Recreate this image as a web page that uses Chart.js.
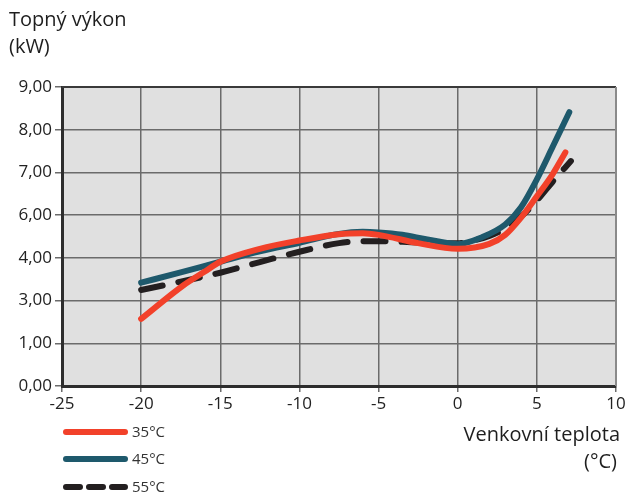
<!DOCTYPE html>
<html>
<head>
<meta charset="utf-8">
<script src="https://cdn.jsdelivr.net/npm/chart.js@4/dist/chart.umd.min.js"></script>
<style>
    html, body { margin: 0; padding: 0; background: #fff; }
    #wrap { width: 629px; height: 496px; position: relative; }
</style>
</head>
<body>
<div id="wrap"><canvas id="chartCanvas" width="629" height="496"></canvas></div>
<script>
// data (y in axis position units, 0..9)
const xTicks = [-25, -20, -15, -10, -5, 0, 5, 10]
const yTickLabels = ['0,00', '1,00', '3,00', '4,00', '6,00', '7,00', '8,00', '9,00']

const x35 = [-20, -17.3, -16, -15, -12.5, -10, -7.5, -6, -5, -2.5, 0, 2, 3, 4, 5, 6, 6.8]
const y35 = [2.02, 3.04, 3.44, 3.74, 4.13, 4.38, 4.57, 4.60, 4.55, 4.30, 4.13, 4.28, 4.55, 5.07, 5.71, 6.38, 7.03]

const x45 = [-20, -17.5, -15, -12.5, -10, -7.5, -6, -5, -3.5, -2, 0, 1.5, 3, 4, 5, 6, 7.05]
const y45 = [3.11, 3.42, 3.74, 4.05, 4.31, 4.58, 4.64, 4.62, 4.55, 4.42, 4.27, 4.47, 4.86, 5.38, 6.22, 7.20, 8.24]

const x55 = [-20, -17.5, -15, -12.5, -10, -7.5, -6, -5, -2.5, 0, 1, 2, 3, 4, 5, 6, 7.15]
const y55 = [2.89, 3.14, 3.41, 3.73, 4.04, 4.30, 4.36, 4.36, 4.32, 4.30, 4.38, 4.52, 4.74, 5.10, 5.58, 6.15, 6.77]

const series = [
    { label: '35°C', xs: x35, ys: y35, color: '#f2412a', dash: [] },
    { label: '45°C', xs: x45, ys: y45, color: '#1e596c', dash: [] },
    { label: '55°C', xs: x55, ys: y55, color: '#231f20', dash: [22, 16] }
]

const FONT = '"Open Sans", "Noto Sans", sans-serif'

const decorPlugin = {
    id: 'decor',
    beforeDraw: (chart) => {
        const { ctx, chartArea: a } = chart
        ctx.save()
        ctx.fillStyle = '#e0e0e0'
        ctx.fillRect(a.left, a.top, a.right - a.left, a.bottom - a.top)
        ctx.restore()
    },
    afterDraw: (chart) => {
        const { ctx, chartArea: a } = chart
        ctx.save()
        // frame: top dark, right light
        ctx.strokeStyle = '#3a3a3a'
        ctx.lineWidth = 2
        ctx.beginPath()
        ctx.moveTo(a.left, a.top)
        ctx.lineTo(a.right, a.top)
        ctx.stroke()
        ctx.strokeStyle = '#8a8a8a'
        ctx.beginPath()
        ctx.moveTo(a.right, a.top)
        ctx.lineTo(a.right, a.bottom)
        ctx.stroke()

        ctx.fillStyle = '#1e1e1e'
        ctx.font = '20px ' + FONT
        ctx.textBaseline = 'middle'
        ctx.textAlign = 'left'
        ctx.fillText('Topný výkon', 9, 20)
        ctx.fillText('(kW)', 9, 47)
        ctx.textAlign = 'right'
        ctx.fillText('Venkovní teplota', 620, 435)
        ctx.fillText('(°C)', 617, 462)

        // legend
        const rows = [432, 459, 487]
        series.forEach((s, i) => {
            ctx.strokeStyle = s.color
            ctx.lineWidth = 6
            ctx.lineCap = 'round'
            ctx.setLineDash(s.dash.length ? [14, 9] : [])
            ctx.beginPath()
            ctx.moveTo(66, rows[i])
            ctx.lineTo(125, rows[i])
            ctx.stroke()
            ctx.setLineDash([])
            ctx.fillStyle = '#333'
            ctx.font = '15px ' + FONT
            ctx.textAlign = 'left'
            ctx.fillText(s.label, 132, rows[i] + 1)
        })
        ctx.restore()
    }
}

const config = {
    type: 'line',
    data: {
        datasets: series.map(s => ({
            label: s.label,
            data: s.xs.map((x, i) => ({ x: x, y: s.ys[i] })),
            borderColor: s.color,
            borderWidth: 6,
            borderDash: s.dash,
            borderCapStyle: 'round',
            borderJoinStyle: 'round',
            pointRadius: 0,
            cubicInterpolationMode: 'monotone',
            fill: false
        }))
    },
    options: {
        responsive: false,
        animation: false,
        events: [],
        layout: { padding: { left: 0, top: 87, right: 13, bottom: 0 } },
        plugins: {
            legend: { display: false },
            tooltip: { enabled: false }
        },
        scales: {
            x: {
                type: 'linear',
                min: -25,
                max: 10,
                afterBuildTicks: (scale) => {
                    scale.ticks = xTicks.map(v => ({ value: v }))
                },
                afterFit: (scale) => { scale.height = 110 },
                ticks: {
                    color: '#222',
                    font: { family: FONT, size: 17 },
                    padding: 2,
                    maxRotation: 0
                },
                grid: {
                    color: '#6b6b6b',
                    lineWidth: 1.5,
                    tickLength: 6,
                    tickColor: '#6b6b6b'
                },
                border: { display: true, color: '#2d2d2d', width: 3 }
            },
            y: {
                type: 'linear',
                min: 0,
                max: 9,
                afterBuildTicks: (scale) => {
                    scale.ticks = yTickLabels.map((l, i) => ({ value: i * 9 / 7 }))
                },
                afterFit: (scale) => { scale.width = 62 },
                ticks: {
                    color: '#222',
                    font: { family: FONT, size: 17 },
                    padding: 3,
                    callback: (v, i) => yTickLabels[i]
                },
                grid: {
                    color: '#6b6b6b',
                    lineWidth: 1.5,
                    tickLength: 7,
                    tickColor: '#6b6b6b'
                },
                border: { display: true, color: '#2d2d2d', width: 3 }
            }
        }
    },
    plugins: [decorPlugin]
}

const myChart = new Chart(document.getElementById('chartCanvas'), config)
</script>
</body>
</html>
